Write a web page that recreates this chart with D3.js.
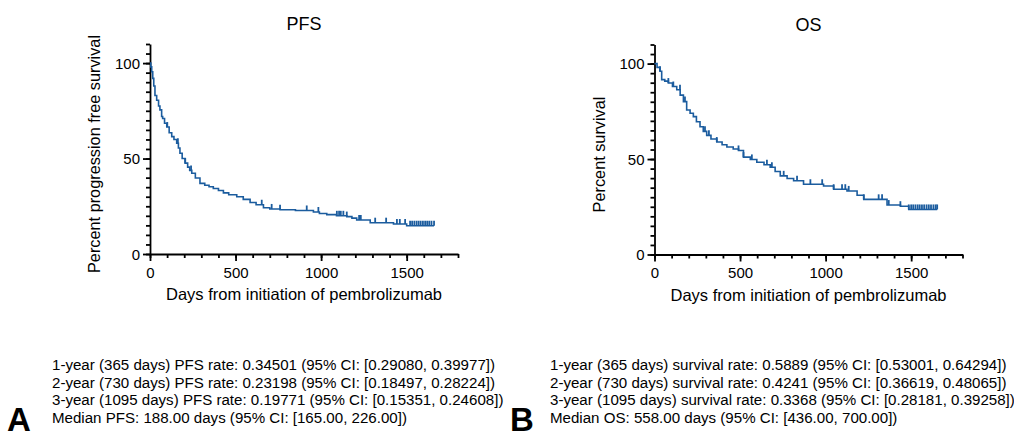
<!DOCTYPE html>
<html>
<head>
<meta charset="utf-8">
<script src="https://cdn.jsdelivr.net/npm/d3@7"></script>
<style>
  body { margin: 0; background: #fff; }
  svg { display: block; font-family: "Liberation Sans", Arial, sans-serif; }
</style>
</head>
<body>
<svg id="chart" width="1014" height="435"></svg>
<script>
// PFS Kaplan-Meier steps (days, percent)
const pfsTimes = [0, 5, 10, 16, 22, 29, 39, 50, 58, 68, 74, 85, 98, 112, 127, 140, 156, 166, 175, 188, 205, 220, 232, 244, 265, 292, 320, 345, 370, 400, 429, 460, 507, 545, 585, 620, 663, 700, 760, 850, 955, 990, 1033, 1090, 1150, 1180, 1208, 1287, 1423, 1500];
const pfsSurv = [100, 98, 95.5, 92, 88, 83, 80.5, 77.5, 75.5, 72, 71, 68.5, 66.5, 63.5, 61.5, 60, 58, 55.5, 52.8, 50, 47.6, 45.5, 43.8, 42.3, 39.8, 37, 36, 35.2, 34.3, 33.3, 32, 31, 30, 28.6, 27, 25.8, 24.2, 23.6, 23.2, 22.8, 22, 21.2, 20.6, 20, 19.6, 18.8, 17.8, 16.4, 15.7, 14.8];
const pfsCensor = [101, 163, 206, 240, 653, 711, 760, 916, 984, 1092, 1105, 1115, 1130, 1150, 1222, 1232, 1316, 1380, 1443, 1460, 1491, 1520, 1532, 1545, 1558, 1570, 1582, 1595, 1608, 1620, 1632, 1645, 1660];
const pfsEnd = 1660;

// OS Kaplan-Meier steps (days, percent)
const osTimes = [0, 15, 32, 42, 60, 81, 105, 130, 150, 169, 188, 208, 227, 245, 266, 285, 305, 330, 364, 395, 423, 460, 491, 520, 560, 598, 640, 676, 705, 735, 775, 813, 871, 988, 1047, 1125, 1184, 1223, 1359, 1437, 1486];
const osSurv = [100, 98, 96, 91.6, 90.8, 89.8, 88, 86.3, 83.5, 80.1, 75.7, 74, 72.2, 69.5, 66.9, 64.5, 62.4, 60.5, 58.9, 57.5, 56.3, 55.3, 54.5, 51, 49.8, 48.3, 47, 45.7, 43.5, 41.2, 39.8, 38.6, 36.8, 35.9, 34.2, 33.3, 31, 28.9, 25.9, 25.3, 23.6];
const osCensor = [32, 81, 110, 149, 178, 295, 318, 364, 491, 520, 569, 657, 686, 755, 833, 911, 980, 1047, 1096, 1115, 1135, 1223, 1310, 1330, 1369, 1437, 1486, 1500, 1512, 1525, 1538, 1550, 1563, 1576, 1590, 1603, 1616, 1630, 1643, 1652];
const osEnd = 1652;

const xMajor = [0, 500, 1000, 1500];
const xMinor = d3.range(0, 1801, 100);
const yMajor = [0, 50, 100];
const yMinor = d3.range(0, 111, 5);

const pfsLines = [
  "1-year (365 days) PFS rate: 0.34501 (95% CI: [0.29080, 0.39977])",
  "2-year (730 days) PFS rate: 0.23198 (95% CI: [0.18497, 0.28224])",
  "3-year (1095 days) PFS rate: 0.19771 (95% CI: [0.15351, 0.24608])",
  "Median PFS: 188.00 days (95% CI: [165.00, 226.00])"
];
const osLines = [
  "1-year (365 days) survival rate: 0.5889 (95% CI: [0.53001, 0.64294])",
  "2-year (730 days) survival rate: 0.4241 (95% CI: [0.36619, 0.48065])",
  "3-year (1095 days) survival rate: 0.3368 (95% CI: [0.28181, 0.39258])",
  "Median OS: 558.00 days (95% CI: [436.00, 700.00])"
];

const lineColor = '#1b5c9e';
const svg = d3.select('#chart');

function drawPanel(cfg) {
  const x = d3.scaleLinear().domain([0, 1800]).range([cfg.left, cfg.left + 308]);
  const y = d3.scaleLinear().domain([0, 110]).range([cfg.bottom, cfg.bottom - 210]);
  const g = svg.append('g');

  // minor ticks
  g.append('g')
    .attr('transform', `translate(0,${cfg.bottom})`)
    .call(d3.axisBottom(x).tickValues(xMinor).tickSize(4).tickFormat('').tickSizeOuter(0))
    .call(a => a.select('.domain').remove());
  g.append('g')
    .attr('transform', `translate(${cfg.left},0)`)
    .call(d3.axisLeft(y).tickValues(yMinor).tickSize(4).tickFormat('').tickSizeOuter(0))
    .call(a => a.select('.domain').remove());

  // major axes
  g.append('g')
    .attr('transform', `translate(0,${cfg.bottom})`)
    .call(d3.axisBottom(x).tickValues(xMajor).tickFormat(d3.format('d')).tickSize(7).tickPadding(6).tickSizeOuter(0));
  const yAx = g.append('g')
    .attr('transform', `translate(${cfg.left},0)`)
    .call(d3.axisLeft(y).tickValues(yMajor).tickFormat(d3.format('d')).tickSize(7).tickPadding(3).tickSizeOuter(0));

  g.selectAll('.tick line, .domain').attr('stroke', '#000').attr('stroke-width', 1.8);
  g.selectAll('.tick text')
    .attr('font-family', '"Liberation Sans", Arial, sans-serif')
    .attr('font-size', 15).attr('fill', '#000');
  yAx.selectAll('.tick text').attr('dy', '0.35em');

  // KM curve
  const pts = cfg.times.map((t, i) => [t, cfg.surv[i]]);
  pts.push([cfg.end, cfg.surv[cfg.surv.length - 1]]);
  g.append('path')
    .datum(pts)
    .attr('fill', 'none')
    .attr('stroke', lineColor)
    .attr('stroke-width', 1.6)
    .attr('d', d3.line().x(d => x(d[0])).y(d => y(d[1])).curve(d3.curveStepAfter));

  // censor marks
  const bis = d3.bisector(d => d).right;
  g.append('g').selectAll('line')
    .data(cfg.censor)
    .join('line')
    .attr('x1', d => x(d)).attr('x2', d => x(d))
    .attr('y1', d => y(cfg.surv[Math.max(0, bis(cfg.times, d) - 1)]))
    .attr('y2', d => y(cfg.surv[Math.max(0, bis(cfg.times, d) - 1)]) - 5)
    .attr('stroke', lineColor)
    .attr('stroke-width', 1.8);

  // titles and labels
  const cx = cfg.left + 154;
  g.append('text').attr('x', cx).attr('y', cfg.bottom - 224)
    .attr('text-anchor', 'middle').attr('font-size', 18).text(cfg.title);
  g.append('text').attr('x', cx).attr('y', cfg.bottom + 46)
    .attr('text-anchor', 'middle').attr('font-size', 16.5).text('Days from initiation of pembrolizumab');
  g.append('text')
    .attr('transform', `translate(${cfg.left - 50},${cfg.bottom - 100}) rotate(-90)`)
    .attr('text-anchor', 'middle').attr('font-size', 16.3).text(cfg.ylabel);

  // summary text
  g.append('g').selectAll('text')
    .data(cfg.lines)
    .join('text')
    .attr('x', cfg.textX)
    .attr('y', (d, i) => 370 + i * 17.7)
    .attr('font-size', 15.1)
    .text(d => d);

  g.append('text').attr('x', cfg.letterX).attr('y', 431)
    .attr('font-size', 33).attr('font-weight', 'bold').text(cfg.letter);
}

drawPanel({
  left: 150, bottom: 254, title: 'PFS', ylabel: 'Percent progression free survival',
  times: pfsTimes, surv: pfsSurv, censor: pfsCensor, end: pfsEnd,
  lines: pfsLines, textX: 52, letter: 'A', letterX: 7
});
drawPanel({
  left: 654.5, bottom: 254.5, title: 'OS', ylabel: 'Percent survival',
  times: osTimes, surv: osSurv, censor: osCensor, end: osEnd,
  lines: osLines, textX: 550, letter: 'B', letterX: 510
});
</script>
</body>
</html>
